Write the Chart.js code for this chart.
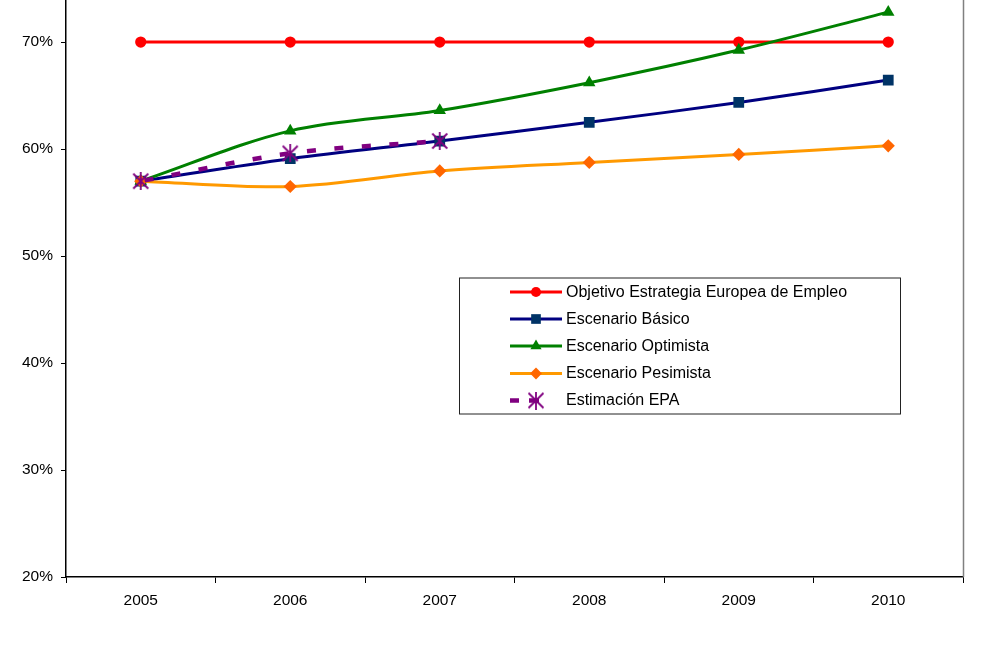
<!DOCTYPE html>
<html>
<head>
<meta charset="utf-8">
<script src="https://cdn.jsdelivr.net/npm/chart.js@4.4.1/dist/chart.umd.min.js"></script>
<style>
html,body{margin:0;padding:0;background:#fff;}
#wrap{position:relative;width:982px;height:645px;}
</style>
</head>
<body>
<div id="wrap"><canvas id="c" width="982" height="645"></canvas></div>
<script>
const years = ['2005', '2006', '2007', '2008', '2009', '2010'];
const objetivo = [70, 70, 70, 70, 70, 70];
const basico = [57.0, 59.1, 60.75, 62.5, 64.35, 66.45];
const optimista = [57.0, 61.7, 63.6, 66.2, 69.25, 72.8];
const pesimista = [57.0, 56.5, 57.95, 58.75, 59.5, 60.3];
const epa = [57.0, 59.6, 60.75, null, null, null];
const yTickValues = [20, 30, 40, 50, 60, 70];
const seriesNames = ['Objetivo Estrategia Europea de Empleo', 'Escenario Básico', 'Escenario Optimista', 'Escenario Pesimista', 'Estimación EPA'];

const FONT = '"Liberation Sans", Arial, sans-serif';

function makeStar(size, color, lw) {
  const c = document.createElement('canvas');
  c.width = size; c.height = size;
  const x = c.getContext('2d');
  x.strokeStyle = color; x.lineWidth = lw; x.lineCap = 'butt';
  const m = 1.5, s = size;
  x.beginPath();
  x.moveTo(m, m); x.lineTo(s - m, s - m);
  x.moveTo(s - m, m); x.lineTo(m, s - m);
  x.moveTo(s / 2, 0); x.lineTo(s / 2, s);
  x.stroke();
  return c;
}
const starImg = makeStar(18, '#800080', 1.8);

const datasets = [
  { label: seriesNames[0], data: objetivo, borderColor: '#FF0000', backgroundColor: '#FF0000', borderWidth: 3, pointStyle: 'circle', pointRadius: 5.6, pointBorderWidth: 0, tension: 0, order: 5 },
  { label: seriesNames[1], data: basico, borderColor: '#000080', backgroundColor: '#003366', pointBorderColor: '#003366', borderWidth: 3, pointStyle: 'rect', pointRadius: 7.6, pointBorderWidth: 0, tension: 0.33, order: 4 },
  { label: seriesNames[2], data: optimista, borderColor: '#008000', backgroundColor: '#008000', borderWidth: 3, pointStyle: 'triangle', pointRadius: 7.2, pointBorderWidth: 0, tension: 0.33, order: 3 },
  { label: seriesNames[3], data: pesimista, borderColor: '#FF9900', backgroundColor: '#FF6600', borderWidth: 3, pointStyle: 'rectRot', pointRadius: 6.6, pointBorderWidth: 0, tension: 0.33, order: 2 },
  { label: seriesNames[4], data: epa, borderColor: '#800080', backgroundColor: '#800080', borderWidth: 4.5, borderDash: [9, 18.5], borderDashOffset: -4, pointStyle: starImg, pointRadius: 9, pointBorderWidth: 0, tension: 0.33, order: 1, spanGaps: false }
];

const legendPlugin = {
  id: 'boxLegend',
  afterDraw(chart) {
    const ctx = chart.ctx;
    const ca = chart.chartArea;
    ctx.save();
    // right plot border
    ctx.strokeStyle = '#808080';
    ctx.lineWidth = 1.5;
    ctx.beginPath();
    ctx.moveTo(ca.right + 0.5, 0);
    ctx.lineTo(ca.right + 0.5, ca.bottom);
    ctx.stroke();

    // legend box
    const bx = 459, by = 277.5, bw = 441, bh = 136;
    ctx.fillStyle = '#fff';
    ctx.fillRect(bx, by, bw, bh);
    ctx.strokeStyle = '#222';
    ctx.lineWidth = 1;
    ctx.strokeRect(bx + 0.5, by + 0.5, bw, bh);

    const x0 = 510, x1 = 562, xm = 536, tx = 566;
    const rowY = [292, 319, 346, 373.5, 400.5];
    ctx.font = '16px ' + FONT;
    ctx.textBaseline = 'middle';
    ctx.textAlign = 'left';
    datasets.forEach((d, i) => {
      const y = rowY[i];
      ctx.save();
      ctx.strokeStyle = d.borderColor;
      ctx.lineWidth = d.borderWidth;
      if (d.borderDash) {
        ctx.setLineDash([10, 10]);
        ctx.lineDashOffset = 1;
      }
      ctx.beginPath();
      ctx.moveTo(x0, y);
      ctx.lineTo(x1 - 13, y);
      if (!d.borderDash) ctx.lineTo(x1, y);
      ctx.stroke();
      ctx.restore();
      ctx.fillStyle = d.backgroundColor;
      ctx.strokeStyle = d.pointBorderColor || d.backgroundColor;
      Chart.helpers.drawPoint(ctx, { pointStyle: d.pointStyle, radius: d.pointRadius * 0.9, borderWidth: 0, rotation: 0 }, xm, y);
      ctx.fillStyle = '#000';
      ctx.fillText(d.label, tx, y + 0.5);
    });
    ctx.restore();
  }
};

new Chart(document.getElementById('c'), {
  type: 'line',
  data: { labels: years, datasets: datasets },
  options: {
    responsive: false,
    animation: false,
    devicePixelRatio: 1,
    layout: { autoPadding: false, padding: { left: 0, right: 19, top: 0, bottom: 0 } },
    plugins: { legend: { display: false }, tooltip: { enabled: false } },
    scales: {
      x: {
        type: 'category',
        offset: true,
        grid: { display: true, drawOnChartArea: false, drawTicks: true, tickLength: 6, offset: true, color: '#000', lineWidth: 1 },
        border: { display: true, color: '#000', width: 1.5 },
        ticks: { color: '#000', font: { family: FONT, size: 15.5 }, padding: 8, maxRotation: 0 },
        afterFit(s) { s.height = 68; s.paddingLeft = 0; s.paddingRight = 0; }
      },
      y: {
        min: 20,
        max: 73.93,
        grid: { display: true, drawOnChartArea: false, drawTicks: true, tickLength: 5, color: '#000', lineWidth: 1 },
        border: { display: true, color: '#000', width: 1.5 },
        afterBuildTicks(s) { s.ticks = yTickValues.map(v => ({ value: v })); },
        ticks: { color: '#000', font: { family: FONT, size: 15.5 }, padding: 8, callback: v => v + '%' },
        afterFit(s) { s.width = 66; s.paddingTop = 0; s.paddingBottom = 0; }
      }
    }
  },
  plugins: [legendPlugin]
});
</script>
</body>
</html>
